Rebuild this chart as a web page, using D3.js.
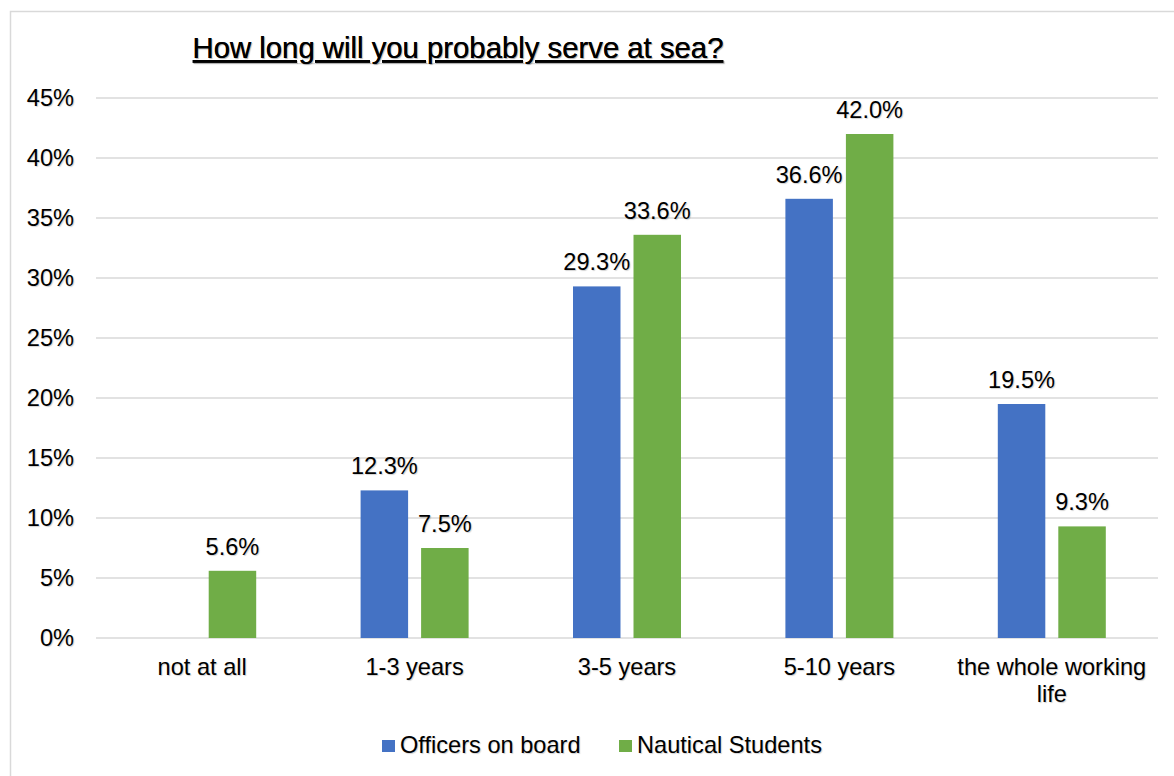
<!DOCTYPE html>
<html>
<head>
<meta charset="utf-8">
<script src="https://cdn.jsdelivr.net/npm/d3@7"></script>
<style>
  body { margin: 0; background: #fff; }
  text { font-family: "Liberation Sans", Arial, sans-serif; fill: #000; text-shadow: 1px 1px 1px rgba(0,0,0,0.18); }
</style>
</head>
<body>
<div class="chart"></div>
<script>
// data
const categories = ["not at all", "1-3 years", "3-5 years", "5-10 years", "the whole working life"]
const series = ["Officers on board", "Nautical Students"]
const officers = [null, 12.3, 29.3, 36.6, 19.5]
const students = [5.6, 7.5, 33.6, 42.0, 9.3]
const yTicks = [0, 5, 10, 15, 20, 25, 30, 35, 40, 45]
const colors = ["#4472C4", "#70AD47"]

const WIDTH = 1174
const HEIGHT = 776
const FS = 23.6

const svg = d3.select(".chart")
  .append("svg")
  .attr("width", WIDTH)
  .attr("height", HEIGHT)

// frame
svg.append("rect")
  .attr("x", 10.5).attr("y", 11.5)
  .attr("width", WIDTH).attr("height", HEIGHT)
  .attr("fill", "none")
  .attr("stroke", "#d9d9d9")
  .attr("stroke-width", 1.5)

const plotLeft = 96, plotRight = 1158, plotTop = 98, plotBottom = 638

const x0 = d3.scaleBand().domain(categories).range([plotLeft, plotRight])
const groupW = 108
const x1 = d3.scaleBand().domain(series).range([0, groupW]).paddingInner(0.215)
const y = d3.scaleLinear().domain([0, 45]).range([plotBottom, plotTop])

// gridlines
svg.append("g")
  .selectAll("line")
  .data(yTicks)
  .join("line")
    .attr("x1", plotLeft).attr("x2", plotRight)
    .attr("y1", d => y(d)).attr("y2", d => y(d))
    .attr("stroke", "#d9d9d9")
    .attr("stroke-width", 1.5)

// y labels
svg.append("g")
  .selectAll("text")
  .data(yTicks)
  .join("text")
    .attr("x", 74)
    .attr("y", d => y(d))
    .attr("dy", "0.36em")
    .attr("text-anchor", "end")
    .attr("font-size", FS)
    .text(d => d + "%")

// bars
const rows = categories.map((c, i) => ({ cat: c, vals: [officers[i], students[i]] }))
const groups = svg.append("g")
  .selectAll("g")
  .data(rows)
  .join("g")
    .attr("transform", d => `translate(${x0(d.cat) + (x0.bandwidth() - groupW) / 2},0)`)

const cells = groups.selectAll("g")
  .data(d => d.vals.map((v, j) => ({ s: series[j], v: v, j: j })).filter(e => e.v != null))
  .join("g")

cells.append("rect")
  .attr("x", d => x1(d.s))
  .attr("y", d => y(d.v))
  .attr("width", x1.bandwidth())
  .attr("height", d => plotBottom - y(d.v))
  .attr("fill", d => colors[d.j])

cells.append("text")
  .attr("x", d => x1(d.s) + x1.bandwidth() / 2)
  .attr("y", d => y(d.v) - 16)
  .attr("text-anchor", "middle")
  .attr("font-size", FS)
  .text(d => d.v.toFixed(1) + "%")

// category labels
const catLines = { "the whole working life": ["the whole working", "life"] }
svg.append("g")
  .selectAll("text")
  .data(categories)
  .join("text")
    .attr("x", d => x0(d) + x0.bandwidth() / 2)
    .attr("y", 675)
    .attr("text-anchor", "middle")
    .attr("font-size", FS)
    .each(function(d) {
      const lines = catLines[d] || [d]
      d3.select(this).selectAll("tspan")
        .data(lines)
        .join("tspan")
          .attr("x", x0(d) + x0.bandwidth() / 2)
          .attr("dy", (l, i) => i === 0 ? 0 : 27)
          .text(l => l)
    })

// title
svg.append("text")
  .attr("x", 458)
  .attr("y", 58)
  .attr("text-anchor", "middle")
  .attr("font-size", 29.3)
  .attr("text-decoration", "underline")
  .text("How long will you probably serve at sea?")

// legend
const legendX = [382, 619]
const legend = svg.append("g")
  .selectAll("g")
  .data(series)
  .join("g")
    .attr("transform", (d, i) => `translate(${legendX[i]},740)`)
legend.append("rect")
  .attr("width", 13).attr("height", 12)
  .attr("fill", (d, i) => colors[i])
legend.append("text")
  .attr("x", 18)
  .attr("y", 13)
  .attr("font-size", FS)
  .text(d => d)
</script>
</body>
</html>
